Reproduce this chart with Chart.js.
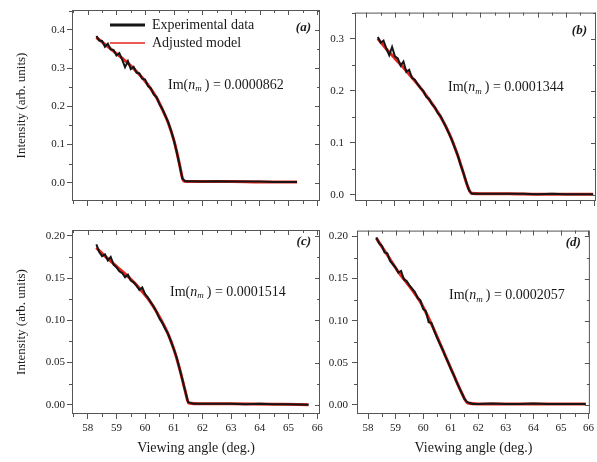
<!DOCTYPE html>
<html>
<head>
<title>Intensity vs viewing angle</title>
<script src="https://cdn.jsdelivr.net/npm/chart.js"></script>
<style>
  body { margin: 0; background: #fff; }
  #wrap { position: relative; width: 597px; height: 462px; overflow: hidden; }
  canvas { position: absolute; }
</style>
</head>
<body>
<div id="wrap">
  <canvas id="pa" width="330" height="220" style="left:0;top:0"></canvas>
  <canvas id="pb" width="279" height="220" style="left:318px;top:0"></canvas>
  <canvas id="pc" width="330" height="242" style="left:0;top:220px"></canvas>
  <canvas id="pd" width="279" height="242" style="left:318px;top:220px"></canvas>
</div>
<script>
// ---- data ----
const xTicks = [58, 59, 60, 61, 62, 63, 64, 65, 66];
const yTicksA = [0, 0.1, 0.2, 0.3, 0.4];
const yTicksB = [0, 0.1, 0.2, 0.3];
const yTicksCD = [0, 0.05, 0.10, 0.15, 0.20];
const imValues = ['0.0000862', '0.0001344', '0.0001514', '0.0002057'];
const panelTags = ['(a)', '(b)', '(c)', '(d)'];

// (a)
const expAngleA = [58.3, 58.4, 58.5, 58.6, 58.7, 58.8, 58.9, 59.0, 59.1, 59.2, 59.3, 59.4, 59.5, 59.6, 59.7, 59.8,
  59.9, 60.0, 60.1, 60.2, 60.3, 60.4, 60.5, 60.6, 60.7, 60.8, 60.9, 61.0, 61.1, 61.2, 61.3, 61.4,
  61.6, 62.0, 62.5, 63.0, 63.5, 64.0, 64.5, 65.0, 65.3];
const expA = [0.384, 0.372, 0.371, 0.356, 0.364, 0.349, 0.347, 0.333, 0.339, 0.322, 0.302, 0.318, 0.297, 0.303, 0.288, 0.286,
  0.272, 0.270, 0.253, 0.247, 0.231, 0.224, 0.206, 0.193, 0.176, 0.159, 0.137, 0.112, 0.081, 0.047, 0.011, 0.004,
  0.004, 0.003, 0.004, 0.003, 0.003, 0.003, 0.002, 0.002, 0.002];
const modelAngleA = [58.3, 58.6, 59.0, 59.4, 59.8, 60.1, 60.4, 60.6, 60.8, 61.0, 61.1, 61.2, 61.3, 61.36, 62.0, 63.0, 64.0, 65.3];
const modelA = [0.380, 0.362, 0.338, 0.313, 0.283, 0.256, 0.222, 0.192, 0.158, 0.112, 0.082, 0.048, 0.012, 0.004, 0.003, 0.003, 0.002, 0.002];

// (b)
const expAngleB = [58.4, 58.5, 58.6, 58.7, 58.8, 58.9, 59.0, 59.1, 59.2, 59.3, 59.4, 59.5, 59.6, 59.7, 59.8, 59.9,
  60.0, 60.1, 60.2, 60.3, 60.4, 60.5, 60.6, 60.7, 60.8, 60.9, 61.0, 61.1, 61.2, 61.3, 61.4, 61.5, 61.6, 61.7,
  62.0, 62.5, 63.0, 63.5, 64.0, 64.5, 65.0, 65.5, 65.95];
const expB = [0.303, 0.292, 0.296, 0.281, 0.268, 0.284, 0.266, 0.262, 0.248, 0.256, 0.236, 0.240, 0.224, 0.221, 0.212, 0.205,
  0.199, 0.188, 0.184, 0.174, 0.168, 0.157, 0.151, 0.140, 0.129, 0.117, 0.105, 0.090, 0.076, 0.058, 0.042, 0.025, 0.008, 0.002,
  0.002, 0.002, 0.002, 0.002, 0.001, 0.002, 0.001, 0.001, 0.001];
const modelAngleB = [58.4, 58.7, 59.0, 59.4, 59.8, 60.2, 60.6, 60.9, 61.2, 61.4, 61.55, 61.68, 62.0, 63.0, 64.0, 65.95];
const modelB = [0.300, 0.280, 0.262, 0.238, 0.212, 0.183, 0.150, 0.118, 0.076, 0.042, 0.016, 0.003, 0.002, 0.002, 0.001, 0.001];

// (c)
const expAngleC = [58.3, 58.4, 58.5, 58.6, 58.7, 58.8, 58.9, 59.0, 59.1, 59.2, 59.3, 59.4, 59.5, 59.6, 59.7, 59.8,
  59.9, 60.0, 60.1, 60.2, 60.3, 60.4, 60.5, 60.6, 60.7, 60.8, 60.9, 61.0, 61.1, 61.2, 61.3, 61.4, 61.5,
  61.7, 62.0, 62.5, 63.0, 63.5, 64.0, 64.5, 65.0, 65.7];
const expC = [0.190, 0.181, 0.176, 0.178, 0.171, 0.175, 0.166, 0.163, 0.158, 0.156, 0.151, 0.154, 0.147, 0.145, 0.141, 0.136,
  0.139, 0.131, 0.127, 0.121, 0.116, 0.110, 0.102, 0.097, 0.090, 0.084, 0.075, 0.066, 0.056, 0.043, 0.030, 0.016, 0.003,
  0.001, 0.001, 0.001, 0.001, 0.0005, 0.001, 0.0005, 0.0005, 0.0];
const modelAngleC = [58.3, 58.6, 59.0, 59.4, 59.8, 60.2, 60.5, 60.8, 61.0, 61.2, 61.4, 61.52, 62.0, 63.0, 65.7];
const modelC = [0.186, 0.176, 0.164, 0.152, 0.138, 0.121, 0.104, 0.084, 0.066, 0.043, 0.016, 0.002, 0.001, 0.001, 0.0];

// (d)
const expAngleD = [58.3, 58.4, 58.5, 58.6, 58.7, 58.8, 58.9, 59.0, 59.1, 59.2, 59.3, 59.4, 59.5, 59.6, 59.7, 59.8,
  59.9, 60.0, 60.1, 60.2, 60.3, 60.4, 60.5, 60.6, 60.7, 60.8, 60.9, 61.0, 61.1, 61.2, 61.3, 61.4, 61.5, 61.6,
  61.8, 62.0, 62.5, 63.0, 63.5, 64.0, 64.5, 65.0, 65.5, 65.9];
const expD = [0.199, 0.192, 0.189, 0.181, 0.180, 0.171, 0.167, 0.163, 0.157, 0.159, 0.149, 0.147, 0.142, 0.138, 0.134, 0.127,
  0.124, 0.114, 0.111, 0.098, 0.097, 0.088, 0.080, 0.073, 0.066, 0.058, 0.051, 0.043, 0.036, 0.028, 0.021, 0.014, 0.007, 0.003,
  0.001, 0.001, 0.0015, 0.001, 0.001, 0.0015, 0.001, 0.001, 0.001, 0.001];
const modelAngleD = [58.3, 58.7, 59.1, 59.5, 59.9, 60.3, 60.7, 61.1, 61.4, 61.62, 62.0, 63.0, 65.9];
const modelD = [0.198, 0.178, 0.158, 0.141, 0.122, 0.096, 0.066, 0.036, 0.014, 0.002, 0.001, 0.001, 0.001];

// ---- drawing ----
const SERIF = '"Liberation Serif", "DejaVu Serif", serif';
const INK = '#1a1a1a';
const AXIS = '#555';

const toPoints = (xs, ys) => xs.map((v, i) => ({ x: v, y: ys[i] }));
const mids = (arr, lo, hi) => {
  const out = [];
  const step = arr[1] - arr[0];
  for (let v = arr[0] - step / 2; v <= hi; v += step) if (v >= lo) out.push(v);
  return out;
};

// frame, mirrored/minor ticks and the text labels
const panelDecor = {
  id: 'panelDecor',
  afterDraw(chart, args, o) {
    const { ctx, chartArea: a, scales: { x, y } } = chart;
    ctx.save();
    ctx.strokeStyle = AXIS;
    ctx.lineWidth = 1;
    const seg = (x1, y1, x2, y2) => { ctx.beginPath(); ctx.moveTo(x1, y1); ctx.lineTo(x2, y2); ctx.stroke(); };
    ctx.strokeRect(a.left + 0.5, a.top + 0.5, a.right - a.left - 1, a.bottom - a.top - 1);
    o.xTicks.forEach(v => {
      const p = Math.round(x.getPixelForValue(v)) + 0.5;
      if (p > a.left && p < a.right) seg(p, a.top, p, a.top + 5);
    });
    mids(o.xTicks, x.min, x.max).forEach(v => {
      const p = Math.round(x.getPixelForValue(v)) + 0.5;
      seg(p, a.bottom, p, a.bottom + 3);
      seg(p, a.top, p, a.top + 3);
    });
    o.yTicks.forEach(v => {
      const p = Math.round(y.getPixelForValue(v)) + 0.5;
      seg(a.right, p, a.right - 5, p);
    });
    mids(o.yTicks, y.min, y.max).forEach(v => {
      const p = Math.round(y.getPixelForValue(v)) + 0.5;
      seg(a.left, p, a.left - 3, p);
      seg(a.right, p, a.right - 3, p);
    });

    ctx.fillStyle = INK;
    ctx.textBaseline = 'middle';
    // panel tag
    ctx.font = 'italic bold 13px ' + SERIF;
    ctx.textAlign = 'right';
    ctx.fillText(o.tag, a.right - 9, a.top + o.tagDy);
    // Im(n_m) = value
    ctx.textAlign = 'left';
    let tx = o.imX, ty = a.top + o.imDy;
    ctx.font = '14px ' + SERIF;
    ctx.fillText('Im(', tx, ty); tx += ctx.measureText('Im(').width;
    ctx.font = 'italic 14px ' + SERIF;
    ctx.fillText('n', tx, ty); tx += ctx.measureText('n').width;
    ctx.font = 'italic 9px ' + SERIF;
    ctx.fillText('m', tx, ty + 4); tx += ctx.measureText('m').width + 3;
    ctx.font = '14px ' + SERIF;
    ctx.fillText(') = ' + o.im, tx, ty);
    // legend
    if (o.legend) {
      chart.data.datasets.forEach((ds, i) => {
        const ly = a.top + 15 + i * 18;
        ctx.strokeStyle = ds.borderColor;
        ctx.lineWidth = i === 0 ? 3 : 1.6;
        seg(a.left + 38, ly, a.left + 73, ly);
        ctx.fillStyle = INK;
        ctx.font = '14px ' + SERIF;
        ctx.fillText(ds.label, a.left + 80, ly);
      });
    }
    ctx.restore();
  }
};

function makePanel(id, p) {
  new Chart(document.getElementById(id), {
    type: 'line',
    data: {
      datasets: [
        { label: 'Experimental data', data: toPoints(p.expX, p.expY), borderColor: '#151515', borderWidth: 2,
          pointRadius: 0, tension: 0 },
        { label: 'Adjusted model', data: toPoints(p.modX, p.modY), borderColor: '#e3241c', borderWidth: 3,
          pointRadius: 0, cubicInterpolationMode: 'monotone' }
      ]
    },
    options: {
      responsive: false,
      animation: false,
      devicePixelRatio: 1,
      layout: { padding: { top: 10, right: p.padRight, left: 0, bottom: 0 } },
      plugins: {
        legend: { display: false },
        tooltip: { enabled: false },
        panelDecor: { xTicks: xTicks, yTicks: p.yTicks, tag: p.tag, tagDy: p.tagDy, im: p.im, imX: p.imX,
          imDy: p.imDy, legend: p.legend }
      },
      scales: {
        x: {
          type: 'linear', min: p.xMin, max: p.xMax,
          afterFit: s => { s.height = p.xHeight; },
          afterBuildTicks: s => { s.ticks = xTicks.map(v => ({ value: v })); },
          ticks: { display: p.showX, font: { family: SERIF, size: 11 }, color: INK, padding: 3, callback: v => v },
          grid: { drawOnChartArea: false, drawTicks: true, tickLength: 5, color: AXIS },
          border: { display: false },
          title: { display: p.showX, text: 'Viewing angle (deg.)', font: { family: SERIF, size: 14 }, color: INK,
            padding: { top: 0, bottom: 5 } }
        },
        y: {
          min: p.yMin, max: p.yMax,
          afterFit: s => { s.width = p.yWidth; },
          afterBuildTicks: s => { s.ticks = p.yTicks.map(v => ({ value: v })); },
          ticks: { font: { family: SERIF, size: 11 }, color: INK, padding: p.yPad, callback: v => v.toFixed(p.dec) },
          grid: { drawOnChartArea: false, drawTicks: true, tickLength: 5, color: AXIS },
          border: { display: false },
          title: { display: p.showY, text: 'Intensity (arb. units)', font: { family: SERIF, size: 13 }, color: INK,
            padding: { top: 14, bottom: 0 } }
        }
      }
    },
    plugins: [panelDecor]
  });
}

makePanel('pa', { expX: expAngleA, expY: expA, modX: modelAngleA, modY: modelA, yTicks: yTicksA, dec: 1,
  xMin: 57.45, xMax: 66.1, yMin: -0.048, yMax: 0.452, padRight: 10, yWidth: 72, yPad: 2, xHeight: 19,
  showX: false, showY: true, tag: panelTags[0], tagDy: 18, im: imValues[0], imX: 168, imDy: 75, legend: true });
makePanel('pb', { expX: expAngleB, expY: expB, modX: modelAngleB, modY: modelB, yTicks: yTicksB, dec: 1,
  xMin: 57.6, xMax: 66.05, yMin: -0.012, yMax: 0.35, padRight: 1, yWidth: 37, yPad: 6, xHeight: 19,
  showX: false, showY: false, tag: panelTags[1], tagDy: 18, im: imValues[1], imX: 130, imDy: 75, legend: false });
makePanel('pc', { expX: expAngleC, expY: expC, modX: modelAngleC, modY: modelC, yTicks: yTicksCD, dec: 2,
  xMin: 57.45, xMax: 66.1, yMin: -0.011, yMax: 0.207, padRight: 10, yWidth: 72, yPad: 2, xHeight: 48,
  showX: true, showY: true, tag: panelTags[2], tagDy: 12, im: imValues[2], imX: 170, imDy: 62, legend: false });
makePanel('pd', { expX: expAngleD, expY: expD, modX: modelAngleD, modY: modelD, yTicks: yTicksCD, dec: 2,
  xMin: 57.6, xMax: 66.05, yMin: -0.011, yMax: 0.207, padRight: 1, yWidth: 39, yPad: 4, xHeight: 48,
  showX: true, showY: false, tag: panelTags[3], tagDy: 12, im: imValues[3], imX: 131, imDy: 65, legend: false });
</script>
</body>
</html>
